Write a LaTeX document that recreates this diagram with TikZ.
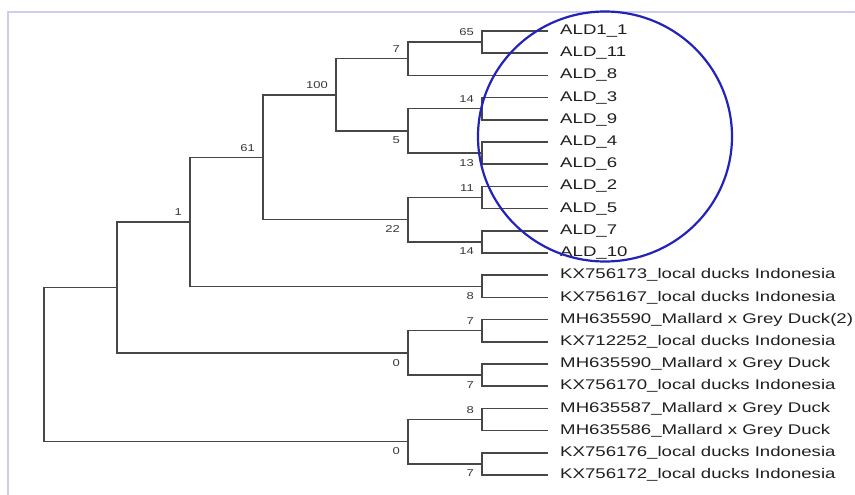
\documentclass[tikz,border=0pt]{standalone}
\usepackage{fontspec}
\setmainfont{Liberation Sans}
\definecolor{ringblue}{RGB}{35,35,185}
\definecolor{framelav}{RGB}{205,205,240}
\begin{document}
\begin{tikzpicture}[x=1pt,y=-1pt,
 branch/.style={draw=black!72,line width=1.5pt},
 leaf/.style={anchor=west,inner xsep=9pt,inner ysep=1pt,font=\fontsize{14}{16}\selectfont,text=black!88,xscale=1.33},
 boot/.style={inner sep=0pt,font=\fontsize{10}{12}\selectfont,text=black!78,xscale=1.3},
 bup/.style={anchor=south east,xshift=-8pt,yshift=6pt,boot},
 bdn/.style={anchor=north east,xshift=-8pt,yshift=-6pt,boot},
 ring/.style={draw=ringblue,line width=2.2pt},
 frame/.style={draw=framelav,line width=1.5pt}]
\useasboundingbox (0,0) rectangle (855,495);
\draw[frame] (8,495) |- (855,12);
\foreach \t [count=\i from 0] in {ALD1\_1,ALD\_11,ALD\_8,ALD\_3,ALD\_9,ALD\_4,ALD\_6,ALD\_2,ALD\_5,ALD\_7,ALD\_10,
  KX756173\_local ducks Indonesia,KX756167\_local ducks Indonesia,MH635590\_Mallard x Grey Duck(2),
  KX712252\_local ducks Indonesia,MH635590\_Mallard x Grey Duck,KX756170\_local ducks Indonesia,
  MH635587\_Mallard x Grey Duck,MH635586\_Mallard x Grey Duck,KX756176\_local ducks Indonesia,
  KX756172\_local ducks Indonesia}
  \node[leaf] (l\i) at (548,31+22.2*\i) {\t};
\coordinate (c1) at (482,42.1);\coordinate (c2) at (408,58.75);
\coordinate (c3) at (482,108.7);\coordinate (c4) at (482,153.1);
\coordinate (c5) at (408,130.9);\coordinate (c6) at (336,94.8);
\coordinate (c7) at (482,197.5);\coordinate (c8) at (482,241.9);
\coordinate (c9) at (408,219.7);\coordinate (c10) at (263,157.3);
\coordinate (c11) at (482,286.3);\coordinate (c12) at (190,221.8);
\coordinate (c13) at (482,330.7);\coordinate (c14) at (482,375.1);
\coordinate (c15) at (408,352.9);\coordinate (c16) at (117,287.35);
\coordinate (c17) at (482,419.5);\coordinate (c18) at (482,463.9);
\coordinate (c19) at (408,441.7);\coordinate (root) at (44,364.5);
\draw[branch] (c1) |- (l0.west) (c1) |- (l1.west);
\draw[branch] (c2) |- (c1) (c2) |- (l2.west);
\draw[branch] (c3) |- (l3.west) (c3) |- (l4.west);
\draw[branch] (c4) |- (l5.west) (c4) |- (l6.west);
\draw[branch] (c5) |- (c3) (c5) |- (c4);
\draw[branch] (c6) |- (c2) (c6) |- (c5);
\draw[branch] (c7) |- (l7.west) (c7) |- (l8.west);
\draw[branch] (c8) |- (l9.west) (c8) |- (l10.west);
\draw[branch] (c9) |- (c7) (c9) |- (c8);
\draw[branch] (c10) |- (c6) (c10) |- (c9);
\draw[branch] (c11) |- (l11.west) (c11) |- (l12.west);
\draw[branch] (c12) |- (c10) (c12) |- (c11);
\draw[branch] (c13) |- (l13.west) (c13) |- (l14.west);
\draw[branch] (c14) |- (l15.west) (c14) |- (l16.west);
\draw[branch] (c15) |- (c13) (c15) |- (c14);
\draw[branch] (c16) |- (c12) (c16) |- (c15);
\draw[branch] (c17) |- (l17.west) (c17) |- (l18.west);
\draw[branch] (c18) |- (l19.west) (c18) |- (l20.west);
\draw[branch] (c19) |- (c17) (c19) |- (c18);
\draw[branch] (root) |- (c16) (root) |- (c19);
\node[bup] (s1) at (c1) {65};\node[bup] (s2) at (c2) {7};
\node[bup] (s3) at (c3) {14};\node[bdn] (s4) at (c4) {13};
\node[bdn] (s5) at (c5) {5};\node[bup] (s6) at (c6) {100};
\node[bup] (s7) at (c7) {11};\node[bdn] (s8) at (c8) {14};
\node[bdn] (s9) at (c9) {22};\node[bup] (s10) at (c10) {61};
\node[bdn] (s11) at (c11) {8};\node[bup] (s12) at (c12) {1};
\node[bup] (s13) at (c13) {7};\node[bdn] (s14) at (c14) {7};
\node[bdn] (s15) at (c15) {0};\node[bup] (s17) at (c17) {8};
\node[bdn] (s18) at (c18) {7};\node[bdn] (s19) at (c19) {0};
\draw[ring] (605,136.5) ellipse [x radius=127pt,y radius=125pt];
\end{tikzpicture}
\end{document}
